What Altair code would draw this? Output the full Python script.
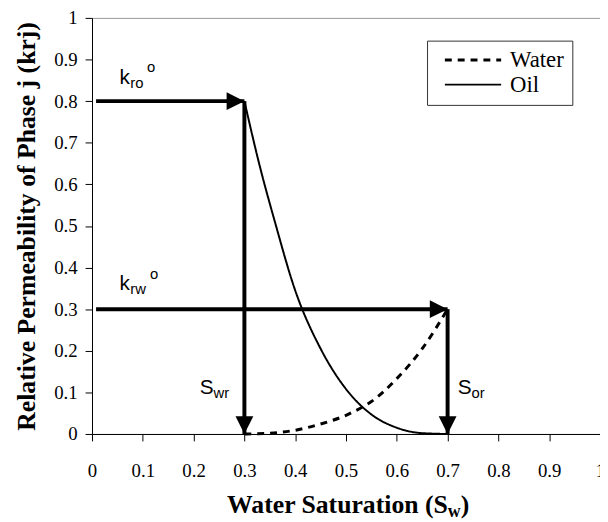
import altair as alt
import pandas as pd

# ---- data ----
water_sw = [0.30, 0.35, 0.40, 0.45, 0.50, 0.534, 0.55, 0.60, 0.65, 0.70]
water_kr = [0.000, 0.002, 0.009, 0.024, 0.045, 0.066, 0.078, 0.133, 0.205, 0.300]
oil_sw = [0.30, 0.33, 0.36, 0.40, 0.45, 0.50, 0.55, 0.60, 0.65, 0.70]
oil_kr = [0.800, 0.645, 0.510, 0.345, 0.205, 0.108, 0.047, 0.015, 0.002, 0.000]

# arrows (endpoints in data units)
harrow_y = [0.8, 0.3]
harrow_x0 = [0.008, 0.008]
harrow_x1 = [0.3, 0.7]
varrow_x = [0.3, 0.7]
varrow_y0 = [0.8, 0.3]
varrow_y1 = [0.0, 0.0]

# annotation labels
lab_main = ["k", "k", "S", "S"]
lab_sub = ["ro", "rw", "wr", "or"]
lab_sup = ["o", "o", "", ""]
lab_x = [0.054, 0.054, 0.212, 0.720]
lab_y = [0.842, 0.345, 0.097, 0.097]

ticks = [0, 0.1, 0.2, 0.3, 0.4, 0.5, 0.6, 0.7, 0.8, 0.9, 1]

# ---- styles ----
sub_dx = [11, 11, 14, 14]
sup_dx = [28, 31, 0, 0]
SERIF = "Liberation Serif"
SANS = "Liberation Sans"

curves = pd.DataFrame(
    {
        "phase": ["Water"] * len(water_sw) + ["Oil"] * len(oil_sw),
        "sw": water_sw + oil_sw,
        "kr": water_kr + oil_kr,
    }
)

xs = alt.Scale(domain=[0, 1], nice=False, zero=False)
ys = alt.Scale(domain=[0, 1], nice=False, zero=False)

xaxis = alt.Axis(
    values=ticks, format="~g", title=None, grid=False,
    labelFont=SERIF, labelFontSize=19, labelColor="black",
    tickColor="black", tickSize=7, domainColor="black",
    labelPadding=21, labelFlush=False, labelOverlap=False,
)
yaxis = alt.Axis(
    values=ticks, format="~g", title="Relative Permeability of Phase j (krj)", grid=False,
    labelFont=SERIF, labelFontSize=19, labelColor="black",
    tickColor="black", tickSize=7, domainColor="black",
    labelPadding=8, labelFlush=False, labelOverlap=False,
    titleFont=SERIF, titleFontSize=26, titleFontWeight="bold", titleColor="black",
    titlePadding=14,
)

lines = alt.Chart(curves).mark_line(color="black", interpolate="monotone").encode(
    x=alt.X("sw:Q", scale=xs, axis=xaxis),
    y=alt.Y("kr:Q", scale=ys, axis=yaxis),
    strokeDash=alt.StrokeDash(
        "phase:N",
        scale=alt.Scale(domain=["Water", "Oil"], range=[[7, 6], [1, 0]]),
        legend=alt.Legend(
            title=None, orient="none", legendX=339, legendY=23,
            symbolType="M-2.92,0H2.92", symbolSize=380, symbolStrokeWidth=3,
            symbolStrokeColor="black", labelFont=SERIF, labelFontSize=23,
            labelColor="black", strokeColor="#333", fillColor="white",
            padding=8, symbolOffset=27, labelOffset=26, rowPadding=1,
            labelExpr="datum.label + '\u2002'",
        ),
    ),
    strokeWidth=alt.StrokeWidth(
        "phase:N", scale=alt.Scale(domain=["Water", "Oil"], range=[3, 2]), legend=None
    ),
)

hdf = pd.DataFrame({"y": harrow_y, "x0": harrow_x0, "x1": harrow_x1})
vdf = pd.DataFrame({"x": varrow_x, "y0": varrow_y0, "y1": varrow_y1})

hrules = alt.Chart(hdf).mark_rule(color="black", strokeWidth=4).encode(
    x=alt.X("x0:Q", scale=xs), x2="x1:Q", y=alt.Y("y:Q", scale=ys)
)
vrules = alt.Chart(vdf).mark_rule(color="black", strokeWidth=4).encode(
    x=alt.X("x:Q", scale=xs), y=alt.Y("y0:Q", scale=ys), y2="y1:Q"
)
heads_r = alt.Chart(hdf).mark_point(
    shape="M0,0L-1,-0.5L-1,0.5Z", filled=True, size=1296, color="black", opacity=1, strokeWidth=0
).encode(x=alt.X("x1:Q", scale=xs), y=alt.Y("y:Q", scale=ys))
heads_d = alt.Chart(vdf).mark_point(
    shape="M0,0L-0.5,-1L0.5,-1Z", filled=True, size=1296, color="black", opacity=1, strokeWidth=0
).encode(x=alt.X("x:Q", scale=xs), y=alt.Y("y1:Q", scale=ys))

layers = [lines, hrules, vrules, heads_r, heads_d]

for i in range(len(lab_main)):
    d = pd.DataFrame({"x": [lab_x[i]], "y": [lab_y[i]], "m": [lab_main[i]],
                      "s": [lab_sub[i]], "p": [lab_sup[i]]})
    base = alt.Chart(d)
    layers.append(
        base.mark_text(align="left", baseline="alphabetic", font=SANS, fontSize=21, color="black")
        .encode(x=alt.X("x:Q", scale=xs), y=alt.Y("y:Q", scale=ys), text="m:N")
    )
    layers.append(
        base.mark_text(align="left", baseline="alphabetic", font=SANS, fontSize=15, color="black",
                       dx=sub_dx[i], dy=4)
        .encode(x=alt.X("x:Q", scale=xs), y=alt.Y("y:Q", scale=ys), text="s:N")
    )
    if lab_sup[i]:
        layers.append(
            base.mark_text(align="left", baseline="alphabetic", font=SANS, fontSize=15, color="black",
                           dx=sup_dx[i], dy=-12)
            .encode(x=alt.X("x:Q", scale=xs), y=alt.Y("y:Q", scale=ys), text="p:N")
        )

# x-axis title with subscript
tdf = pd.DataFrame({"a": ["Water Saturation (S"], "b": ["w"], "c": [")"]})
tb = alt.Chart(tdf)
layers.append(tb.mark_text(align="right", baseline="alphabetic", font=SERIF, fontSize=26,
                           fontWeight="bold", color="black")
              .encode(x=alt.value(360), y=alt.value(501), text="a:N"))
layers.append(tb.mark_text(align="left", baseline="alphabetic", font=SERIF, fontSize=18,
                           fontWeight="bold", color="black")
              .encode(x=alt.value(360), y=alt.value(505), text="b:N"))
layers.append(tb.mark_text(align="left", baseline="alphabetic", font=SERIF, fontSize=26,
                           fontWeight="bold", color="black")
              .encode(x=alt.value(373), y=alt.value(501), text="c:N"))

chart = alt.layer(*layers).properties(
    width=514, height=421,
    autosize=alt.AutoSizeParams(type="none"),
    padding={"left": 85, "top": 7, "right": 0, "bottom": 84},
).configure_view(stroke="#999", strokeWidth=1)

chart.save("out.html", embed_options={"renderer": "svg", "actions": False})
